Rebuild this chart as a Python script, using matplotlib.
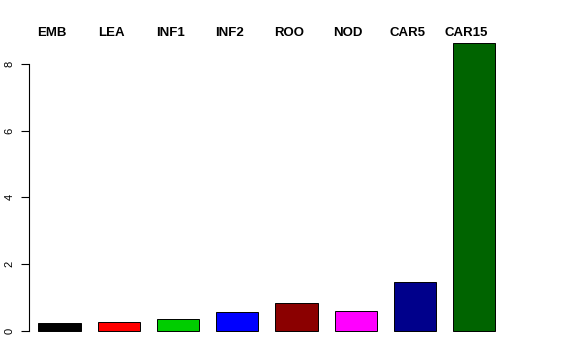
import numpy as np
import matplotlib
matplotlib.use("Agg")
import matplotlib.pyplot as plt

names = ["EMB", "LEA", "INF1", "INF2", "ROO", "NOD", "CAR5", "CAR15"]
values = [0.25, 0.28, 0.37, 0.57, 0.85, 0.61, 1.48, 8.63]
colors = ["black", "red", "#00CD00", "blue", "#8B0000", "magenta", "#00008B", "#006400"]
yticks = [0, 2, 4, 6, 8]

plt.rcParams["font.family"] = ["Liberation Sans", "DejaVu Sans"]

fig = plt.figure(figsize=(5.76, 3.6), dpi=100)
# R style barplot: width 1, space 0.4
xlim = (0.17, 11.63)
ylim = (-0.35, 9.0)
ax = fig.add_axes([28.7 / 576, 0.048, (xlim[1] - xlim[0]) * 42.3 / 576, 0.8675])

space = 0.4
lefts = space + np.arange(len(values)) * (1 + space)
centers = lefts + 0.5
ax.bar(centers, values, width=1.0, color=colors, edgecolor="black", linewidth=0.7)

ax.set_xlim(*xlim)
ax.set_ylim(*ylim)

# bar names along the top, shifted a bit left like the original
for c, name in zip(centers, names):
    ax.text(c - 0.18, 8.92, name, ha="center", va="center",
            fontsize=9.5, fontweight="bold", clip_on=False)

ax.set_xticks([])
ax.set_yticks(yticks)
ax.set_yticklabels([str(t) for t in yticks], rotation=90, va="center", fontsize=8)
ax.tick_params(axis="y", length=5.8, width=0.8, pad=4.5)
for s in ["top", "right", "bottom"]:
    ax.spines[s].set_visible(False)
ax.spines["left"].set_bounds(0, 8)
ax.spines["left"].set_linewidth(0.8)

fig.savefig("out.png", dpi=100)
